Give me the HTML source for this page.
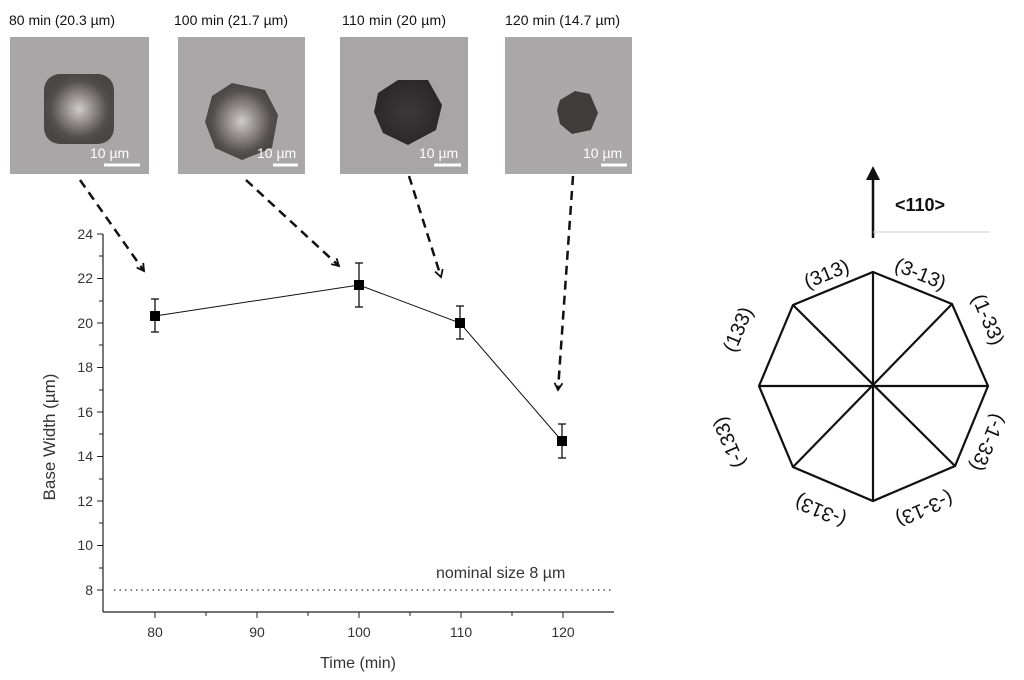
<!DOCTYPE html>
<html><head><meta charset="utf-8"><style>
body{margin:0;background:#fff;}
svg{display:block;font-family:"Liberation Sans",sans-serif;}
</style></head><body>
<svg width="1024" height="680" viewBox="0 0 1024 680" xmlns="http://www.w3.org/2000/svg">
<defs>
<marker id="ah" markerWidth="10" markerHeight="10" refX="8" refY="5" orient="auto" markerUnits="userSpaceOnUse">
<path d="M1,1 L8,5 L1,9" fill="none" stroke="#111" stroke-width="1.8"/></marker>
<radialGradient id="g1"><stop offset="0" stop-color="#d0ccc8"/><stop offset="0.45" stop-color="#8a8583"/><stop offset="0.8" stop-color="#555050"/><stop offset="1" stop-color="#4a4646"/></radialGradient>
<radialGradient id="g3"><stop offset="0" stop-color="#3a3838"/><stop offset="1" stop-color="#2a2828"/></radialGradient>
</defs>
<g font-size="14" fill="#111" font-family="'Liberation Sans',sans-serif">
<text x="9" y="25" textLength="106">80 min (20.3 µm)</text>
<text x="174" y="25" textLength="114">100 min (21.7 µm)</text>
<text x="342" y="25" textLength="104">110 min (20 µm)</text>
<text x="505" y="25" textLength="115">120 min (14.7 µm)</text>
</g>
<rect x="10" y="37" width="139" height="137" fill="#a9a6a8"/>
<rect x="178" y="37" width="127" height="137" fill="#aaa7a9"/>
<rect x="340" y="37" width="128" height="137" fill="#a8a5a7"/>
<rect x="505" y="37" width="127" height="137" fill="#aba8aa"/>
<rect x="44" y="74" width="70" height="70" rx="16" fill="url(#g1)"/>
<polygon points="212,96 232,83 265,90 278,115 272,148 242,160 215,148 205,122" fill="url(#g1)"/>
<polygon points="378,93 398,80 428,80 442,105 436,130 408,145 383,133 374,112" fill="url(#g3)"/>
<polygon points="560,100 575,91 590,94 598,113 591,130 572,134 560,124 557,110" fill="#3f3c3c"/>
<g fill="#fff" font-size="14">
<text x="90" y="158">10 µm</text><text x="257" y="158">10 µm</text><text x="419" y="158">10 µm</text><text x="583" y="158">10 µm</text>
</g>
<g stroke="#fff" stroke-width="3">
<line x1="104" y1="165" x2="140" y2="165"/><line x1="273" y1="165" x2="298" y2="165"/><line x1="434" y1="165" x2="461" y2="165"/><line x1="601" y1="165" x2="627" y2="165"/>
</g>
<g stroke="#111" stroke-width="2.5" stroke-dasharray="9,6" fill="none" marker-end="url(#ah)">
<line x1="80" y1="180" x2="144" y2="271"/>
<line x1="246" y1="180" x2="339" y2="266"/>
<line x1="409" y1="176" x2="441" y2="277"/>
<line x1="573" y1="176" x2="558" y2="390"/>
</g>
<g stroke="#222" stroke-width="1.2" fill="none">
<line x1="103" y1="234" x2="103" y2="612"/>
<line x1="103" y1="612" x2="614" y2="612"/>
</g>
<g stroke="#222" stroke-width="1">
<line x1="97" y1="234" x2="103" y2="234"/><line x1="97" y1="278.5" x2="103" y2="278.5"/><line x1="97" y1="323" x2="103" y2="323"/><line x1="97" y1="367.5" x2="103" y2="367.5"/><line x1="97" y1="412" x2="103" y2="412"/><line x1="97" y1="456.5" x2="103" y2="456.5"/><line x1="97" y1="501" x2="103" y2="501"/><line x1="97" y1="545.5" x2="103" y2="545.5"/><line x1="97" y1="590" x2="103" y2="590"/>
<line x1="99" y1="256" x2="103" y2="256"/><line x1="99" y1="301" x2="103" y2="301"/><line x1="99" y1="345" x2="103" y2="345"/><line x1="99" y1="390" x2="103" y2="390"/><line x1="99" y1="434" x2="103" y2="434"/><line x1="99" y1="479" x2="103" y2="479"/><line x1="99" y1="523" x2="103" y2="523"/><line x1="99" y1="568" x2="103" y2="568"/>
<line x1="155" y1="612" x2="155" y2="618"/><line x1="257" y1="612" x2="257" y2="618"/><line x1="359" y1="612" x2="359" y2="618"/><line x1="461" y1="612" x2="461" y2="618"/><line x1="563" y1="612" x2="563" y2="618"/>
<line x1="206" y1="612" x2="206" y2="616"/><line x1="308" y1="612" x2="308" y2="616"/><line x1="410" y1="612" x2="410" y2="616"/><line x1="512" y1="612" x2="512" y2="616"/>
</g>
<g font-size="14" fill="#333" text-anchor="end">
<text x="93" y="239">24</text><text x="93" y="283">22</text><text x="93" y="328">20</text><text x="93" y="372">18</text><text x="93" y="417">16</text><text x="93" y="461">14</text><text x="93" y="506">12</text><text x="93" y="550">10</text><text x="93" y="595">8</text>
</g>
<g font-size="14" fill="#333" text-anchor="middle">
<text x="155" y="637">80</text><text x="257" y="637">90</text><text x="359" y="637">100</text><text x="461" y="637">110</text><text x="563" y="637">120</text>
</g>
<text x="358" y="668" font-size="16" fill="#333" text-anchor="middle">Time (min)</text>
<text transform="translate(55,437) rotate(-90)" font-size="17" fill="#333" text-anchor="middle">Base Width (µm)</text>
<text x="436" y="578" font-size="16" fill="#333">nominal size 8 µm</text>
<line x1="114" y1="590" x2="614" y2="590" stroke="#333" stroke-width="1.2" stroke-dasharray="1.5,4"/>
<polyline points="155,316 359,285 460,323 562,441" fill="none" stroke="#111" stroke-width="1"/>
<g stroke="#111" stroke-width="1.3">
<line x1="155" y1="299" x2="155" y2="332"/><line x1="151" y1="299" x2="159" y2="299"/><line x1="151" y1="332" x2="159" y2="332"/>
<line x1="359" y1="263" x2="359" y2="307"/><line x1="355" y1="263" x2="363" y2="263"/><line x1="355" y1="307" x2="363" y2="307"/>
<line x1="460" y1="306" x2="460" y2="339"/><line x1="456" y1="306" x2="464" y2="306"/><line x1="456" y1="339" x2="464" y2="339"/>
<line x1="562" y1="424" x2="562" y2="458"/><line x1="558" y1="424" x2="566" y2="424"/><line x1="558" y1="458" x2="566" y2="458"/>
</g>
<g fill="#000"><rect x="150" y="311" width="10" height="10"/><rect x="354" y="280" width="10" height="10"/><rect x="455" y="318" width="10" height="10"/><rect x="557" y="436" width="10" height="10"/></g>
<line x1="873" y1="238" x2="873" y2="172" stroke="#111" stroke-width="2.5"/>
<path d="M866,180 L873,166 L880,180 Z" fill="#111"/>
<line x1="873" y1="232" x2="990" y2="232" stroke="#ccc" stroke-width="1"/>
<text x="895" y="211" font-size="18" font-weight="bold" fill="#111">&lt;110&gt;</text>
<g stroke="#111" stroke-width="2.2" fill="none">
<polygon points="873,272 952,304 988,386 955,466 873,501 793,467 759,386 793,305"/>
<line x1="873" y1="272" x2="873" y2="501"/><line x1="759" y1="386" x2="988" y2="386"/>
<line x1="952" y1="304" x2="793" y2="467"/><line x1="793" y1="305" x2="955" y2="466"/>
</g>
<g font-size="20" fill="#111" text-anchor="middle">
<text transform="translate(829,280) rotate(-22)">(313)</text>
<text transform="translate(918,280) rotate(22)">(3-13)</text>
<text transform="translate(982,322) rotate(67)">(1-33)</text>
<text transform="translate(982,440) rotate(113)">(-1-33)</text>
<text transform="translate(922,503) rotate(157)">(-3-13)</text>
<text transform="translate(823,505) rotate(-157)">(-313)</text>
<text transform="translate(735,440) rotate(-113)">(-133)</text>
<text transform="translate(744,332) rotate(-67)">(133)</text>
</g>
</svg>
</body></html>
